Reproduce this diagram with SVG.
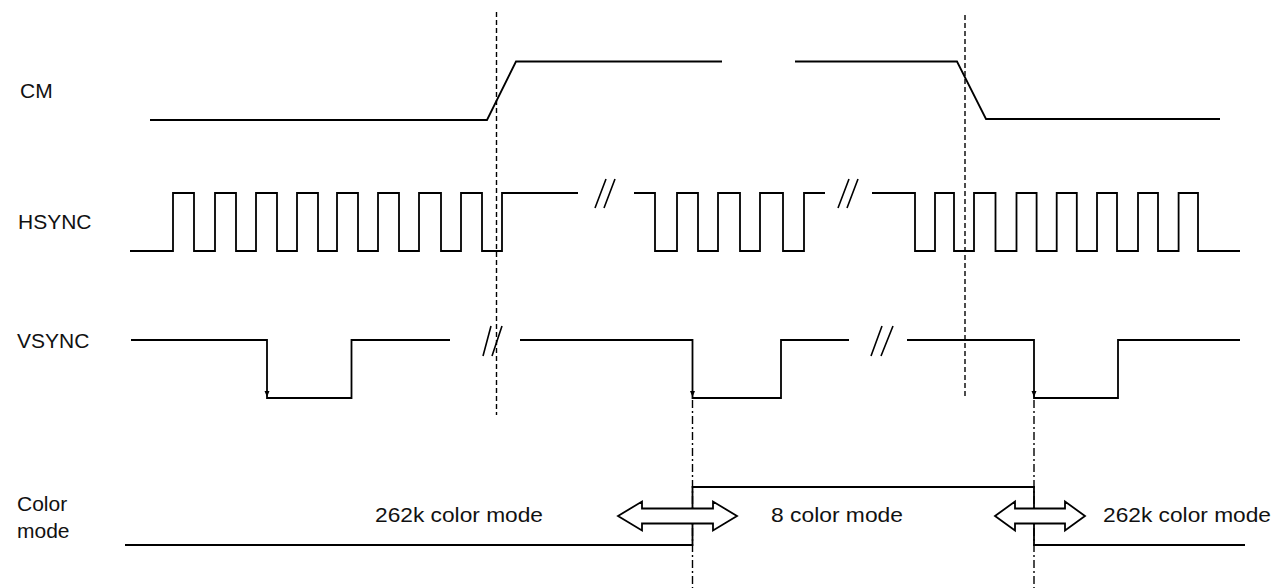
<svg xmlns="http://www.w3.org/2000/svg" width="1287" height="588" viewBox="0 0 1287 588">
<style>
.sig{fill:none;stroke:#000;stroke-width:1.8;stroke-linejoin:miter}
.brk{fill:none;stroke:#000;stroke-width:1.6}
.dash{fill:none;stroke:#000;stroke-width:1.4;stroke-dasharray:5,3}
.dd{fill:none;stroke:#000;stroke-width:1.4;stroke-dasharray:8,3,2,3}
.arr{fill:#fff;stroke:#000;stroke-width:1.8;stroke-linejoin:miter}
.lbl{font-family:"Liberation Sans",Arial,sans-serif;font-size:21px;fill:#111}
.tip{fill:#000}
</style>
<rect width="1287" height="588" fill="#fff"/>
<g id="connectors">
<line class="dash" x1="496.5" y1="12" x2="496.5" y2="415"/>
<line class="dash" x1="965" y1="15" x2="965" y2="398"/>
<line class="dd" x1="692.5" y1="400" x2="692.5" y2="588"/>
<line class="dd" x1="1034" y1="400" x2="1034" y2="588"/>
</g>
<g id="cm">
<text class="lbl" x="20" y="98">CM</text>
<path class="sig" d="M150,120 H487 L516,61.5 H722"/>
<path class="sig" d="M795,61.5 H957 L986,119 H1220"/>
</g>
<g id="hsync">
<text class="lbl" x="18" y="229">HSYNC</text>
<path class="sig" d="M130,251 H173 V193 H194 V251 H215 V193 H236 V251 H256 V193 H277 V251 H297 V193 H318 V251 H337 V193 H358 V251 H378 V193 H399 V251 H419 V193 H441 V251 H461 V193 H482 V251 H502 V193 H578"/>
<path class="brk" d="M595,208 L606,179 M604,208 L615,179"/>
<path class="sig" d="M634,193 H655 V251 H677 V193 H698 V251 H718 V193 H740 V251 H760 V193 H783 V251 H804 V193 H825"/>
<path class="brk" d="M838,208 L849,179 M847,208 L858,179"/>
<path class="sig" d="M872,193 H915 V251 H935 V193 H954 V251 H974 V193 H995.5 V251 H1016.5 V193 H1036.6 V251 H1056.7 V193 H1076.8 V251 H1097 V193 H1117 V251 H1138 V193 H1158 V251 H1178.6 V193 H1198 V251 H1240"/>
</g>
<g id="vsync">
<text class="lbl" x="17" y="348">VSYNC</text>
<path class="sig" d="M131,340 H267 V398 H351.5 V340 H450"/>
<path class="tip" d="M264.5,391 L269.5,391 L267,397 Z"/>
<path class="brk" d="M483,356 L491,326 M492,356 L502,326"/>
<path class="sig" d="M520,340 H692.5 V398 H781 V340 H849"/>
<path class="tip" d="M690,391 L695,391 L692.5,397 Z"/>
<path class="brk" d="M871,356 L882,326 M881,356 L893,326"/>
<path class="sig" d="M907,340 H1034 V398 H1118 V340 H1240"/>
<path class="tip" d="M1031.5,391 L1036.5,391 L1034,397 Z"/>
</g>
<g id="colormode">
<text class="lbl" x="17" y="511">Color</text>
<text class="lbl" x="17" y="538">mode</text>
<path class="sig" d="M125,545 H692.5 V487 H1034 V545 H1245"/>
<text class="lbl" x="375" y="522" textLength="168" lengthAdjust="spacingAndGlyphs">262k color mode</text>
<text class="lbl" x="771" y="522" textLength="132" lengthAdjust="spacingAndGlyphs">8 color mode</text>
<text class="lbl" x="1103" y="522" textLength="168" lengthAdjust="spacingAndGlyphs">262k color mode</text>
</g>
<g id="arrow1">
<polygon class="arr" points="618,516 642,501.5 642,508.5 713,508.5 713,501.5 737,516 713,530.5 713,523.5 642,523.5 642,530.5"/>
</g>
<g id="arrow2">
<polygon class="arr" points="995,516 1015,501.5 1015,508.5 1065,508.5 1065,501.5 1085,516 1065,530.5 1065,523.5 1015,523.5 1015,530.5"/>
</g>
</svg>
